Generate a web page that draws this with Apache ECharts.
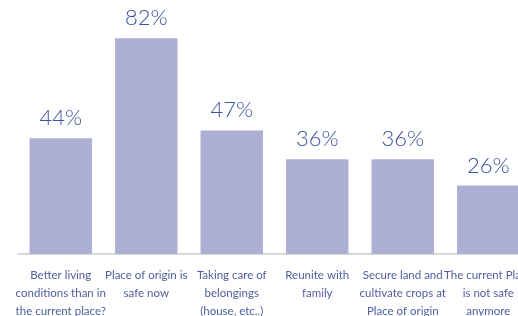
<!DOCTYPE html>
<html>
<head>
<meta charset="utf-8">
<script src="https://cdn.jsdelivr.net/npm/echarts@6/dist/echarts.min.js"></script>
<style>
  html, body { margin: 0; padding: 0; background: #fff; }
  #chart { width: 518px; height: 316px; }
</style>
</head>
<body>
<div id="chart"></div>
<script>
const categories = [
  'Better living\nconditions than in\nthe current place?',
  'Place of origin is\nsafe now',
  'Taking care of\nbelongings\n(house, etc..)',
  'Reunite with\nfamily',
  'Secure land and\ncultivate crops at\nPlace of origin',
  'The current Place\nis not safe\nanymore'
];
const values = [44, 82, 47, 36, 36, 26];

const chart = echarts.init(document.getElementById('chart'));
chart.setOption({
  animation: false,
  grid: { left: 18, right: -13, top: -9, bottom: 62, outerBoundsMode: 'none', containLabel: false },
  xAxis: {
    type: 'category',
    data: categories,
    axisTick: { show: false },
    axisLine: { lineStyle: { color: '#d9d9d9', width: 2 } },
    axisLabel: {
      interval: 0,
      color: '#4f5e9e',
      fontFamily: 'Lato',
      fontSize: 11.5,
      lineHeight: 18,
      margin: 12,
      hideOverlap: false
    }
  },
  yAxis: {
    type: 'value',
    min: 0,
    max: 100,
    show: false,
    splitLine: { show: false }
  },
  series: [{
    type: 'bar',
    data: values,
    barCategoryGap: '27%',
    itemStyle: { color: '#adaed4' },
    label: {
      show: true,
      position: 'top',
      distance: 9,
      formatter: '{c}%',
      color: '#3d52a0',
      fontFamily: 'Lato',
      fontWeight: 300,
      fontSize: 22
    }
  }]
});
</script>
</body>
</html>
